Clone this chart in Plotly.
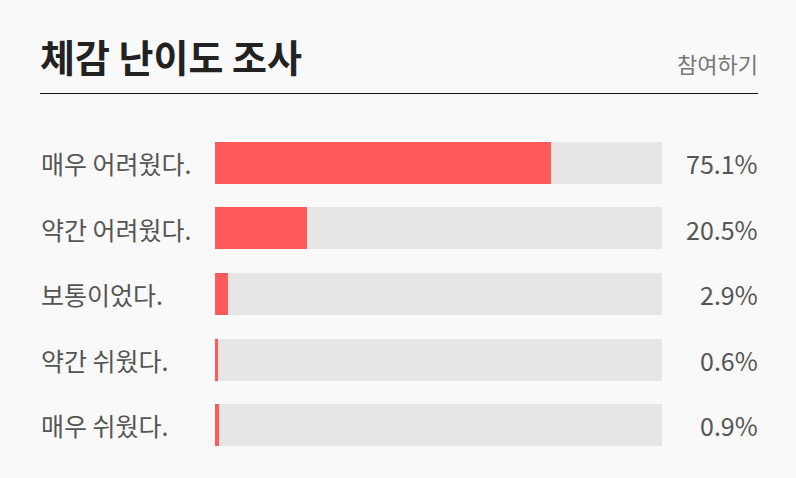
import plotly.graph_objects as go

categories = ["매우 어려웠다.", "약간 어려웠다.", "보통이었다.", "약간 쉬웠다.", "매우 쉬웠다."]
values = [75.1, 20.5, 2.9, 0.6, 0.9]
value_labels = ["75.1%", "20.5%", "2.9%", "0.6%", "0.9%"]
title_text = "체감 난이도 조사"
link_text = "참여하기"

W, H = 796, 478
FONT = "Noto Sans CJK KR"
BG = "#f9f9f9"

fig = go.Figure()
fig.add_trace(go.Bar(
    x=[100] * len(categories), y=categories, orientation="h",
    marker=dict(color="#e6e6e6", line=dict(width=0)), width=0.64,
    hoverinfo="skip", showlegend=False,
))
fig.add_trace(go.Bar(
    x=values, y=categories, orientation="h",
    marker=dict(color="#ff5a5a", line=dict(width=0)), width=0.64,
    showlegend=False,
))

annotations = []
for c, lab in zip(categories, value_labels):
    annotations.append(dict(x=39 / W, y=c, xref="paper", yref="y", text=c,
                            xanchor="left", yanchor="middle", showarrow=False,
                            font=dict(family=FONT, size=25, color="#555555")))
    annotations.append(dict(x=760 / W, y=c, xref="paper", yref="y", text=lab,
                            xanchor="right", yanchor="middle", showarrow=False,
                            font=dict(family=FONT, size=25, color="#555555")))

annotations.append(dict(x=38 / W, y=1 - 56 / H, xref="paper", yref="paper",
                        text="<b>" + title_text + "</b>", xanchor="left", yanchor="middle",
                        showarrow=False, font=dict(family=FONT, size=38, color="#222222")))
annotations.append(dict(x=760 / W, y=1 - 63 / H, xref="paper", yref="paper",
                        text=link_text, xanchor="right", yanchor="middle",
                        showarrow=False, font=dict(family=FONT, size=22, color="#777777")))

fig.update_layout(
    width=W, height=H,
    margin=dict(l=0, r=0, t=0, b=0),
    paper_bgcolor=BG, plot_bgcolor=BG,
    barmode="overlay",
    bargap=0,
    xaxis=dict(domain=[215 / W, 662 / W], range=[0, 100], visible=False, fixedrange=True),
    yaxis=dict(domain=[(H - 458.2) / H, (H - 130.2) / H], range=[4.5, -0.5],
               visible=False, type="category", categoryorder="array",
               categoryarray=categories, fixedrange=True),
    annotations=annotations,
    shapes=[dict(type="line", xref="paper", yref="paper",
                 x0=40 / W, x1=758 / W, y0=1 - 93.5 / H, y1=1 - 93.5 / H,
                 line=dict(color="#111111", width=1))],
    showlegend=False,
)

fig.write_html("out.html", config={"displayModeBar": False},
               post_script="document.body.style.margin='0';")
